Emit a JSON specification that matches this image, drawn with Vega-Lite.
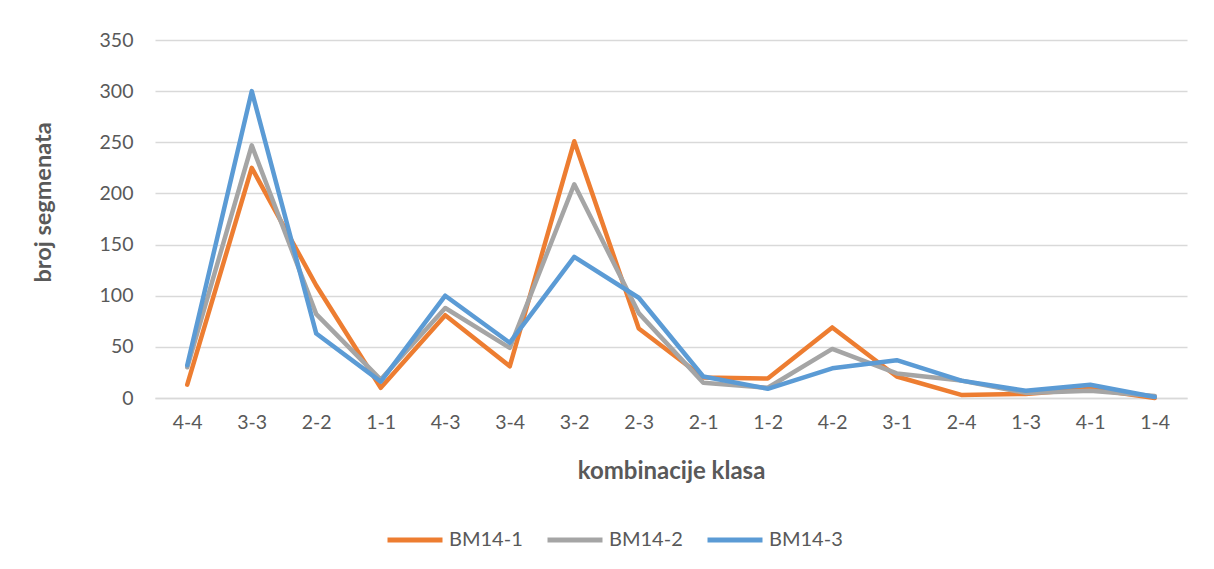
{
  "$schema": "https://vega.github.io/schema/vega-lite/v6.json",
  "autosize": "none",
  "width": 1032,
  "height": 358,
  "padding": {"left": 155, "top": 40, "right": 27, "bottom": 171},
  "background": "white",
  "config": {
    "view": {"stroke": null},
    "font": "Lato",
    "axis": {"labelColor": "#595959", "titleColor": "#595959", "labelFont": "Lato", "titleFont": "Lato"}
  },
  "data": {
    "values": [
      {"klasa": "4-4", "serija": "BM14-1", "broj": 13},
      {"klasa": "3-3", "serija": "BM14-1", "broj": 225},
      {"klasa": "2-2", "serija": "BM14-1", "broj": 110},
      {"klasa": "1-1", "serija": "BM14-1", "broj": 10},
      {"klasa": "4-3", "serija": "BM14-1", "broj": 81},
      {"klasa": "3-4", "serija": "BM14-1", "broj": 31},
      {"klasa": "3-2", "serija": "BM14-1", "broj": 251},
      {"klasa": "2-3", "serija": "BM14-1", "broj": 68},
      {"klasa": "2-1", "serija": "BM14-1", "broj": 20},
      {"klasa": "1-2", "serija": "BM14-1", "broj": 19},
      {"klasa": "4-2", "serija": "BM14-1", "broj": 69},
      {"klasa": "3-1", "serija": "BM14-1", "broj": 21},
      {"klasa": "2-4", "serija": "BM14-1", "broj": 3},
      {"klasa": "1-3", "serija": "BM14-1", "broj": 4},
      {"klasa": "4-1", "serija": "BM14-1", "broj": 9},
      {"klasa": "1-4", "serija": "BM14-1", "broj": 0},
      {"klasa": "4-4", "serija": "BM14-2", "broj": 30},
      {"klasa": "3-3", "serija": "BM14-2", "broj": 247},
      {"klasa": "2-2", "serija": "BM14-2", "broj": 82},
      {"klasa": "1-1", "serija": "BM14-2", "broj": 18},
      {"klasa": "4-3", "serija": "BM14-2", "broj": 88},
      {"klasa": "3-4", "serija": "BM14-2", "broj": 49},
      {"klasa": "3-2", "serija": "BM14-2", "broj": 209},
      {"klasa": "2-3", "serija": "BM14-2", "broj": 83},
      {"klasa": "2-1", "serija": "BM14-2", "broj": 15},
      {"klasa": "1-2", "serija": "BM14-2", "broj": 10},
      {"klasa": "4-2", "serija": "BM14-2", "broj": 48},
      {"klasa": "3-1", "serija": "BM14-2", "broj": 24},
      {"klasa": "2-4", "serija": "BM14-2", "broj": 17},
      {"klasa": "1-3", "serija": "BM14-2", "broj": 5},
      {"klasa": "4-1", "serija": "BM14-2", "broj": 7},
      {"klasa": "1-4", "serija": "BM14-2", "broj": 2},
      {"klasa": "4-4", "serija": "BM14-3", "broj": 32},
      {"klasa": "3-3", "serija": "BM14-3", "broj": 300},
      {"klasa": "2-2", "serija": "BM14-3", "broj": 63},
      {"klasa": "1-1", "serija": "BM14-3", "broj": 16},
      {"klasa": "4-3", "serija": "BM14-3", "broj": 100},
      {"klasa": "3-4", "serija": "BM14-3", "broj": 54},
      {"klasa": "3-2", "serija": "BM14-3", "broj": 138},
      {"klasa": "2-3", "serija": "BM14-3", "broj": 98},
      {"klasa": "2-1", "serija": "BM14-3", "broj": 21},
      {"klasa": "1-2", "serija": "BM14-3", "broj": 9},
      {"klasa": "4-2", "serija": "BM14-3", "broj": 29},
      {"klasa": "3-1", "serija": "BM14-3", "broj": 37},
      {"klasa": "2-4", "serija": "BM14-3", "broj": 17},
      {"klasa": "1-3", "serija": "BM14-3", "broj": 7},
      {"klasa": "4-1", "serija": "BM14-3", "broj": 13},
      {"klasa": "1-4", "serija": "BM14-3", "broj": 1}
    ]
  },
  "mark": {"type": "line", "strokeWidth": 4.5, "strokeJoin": "round", "strokeCap": "round"},
  "encoding": {
    "x": {
      "field": "klasa",
      "type": "ordinal",
      "sort": null,
      "scale": {"type": "point", "padding": 0.5},
      "axis": {
        "title": "kombinacije klasa",
        "titleFontSize": 24,
        "titleFontWeight": "bold",
        "titlePadding": 28,
        "labelFontSize": 19.5,
        "labelAngle": 0,
        "labelPadding": 15,
        "ticks": false,
        "domainColor": "#D9D9D9",
        "domainWidth": 1.5,
        "grid": false
      }
    },
    "y": {
      "field": "broj",
      "type": "quantitative",
      "scale": {"domain": [0, 350], "nice": false},
      "axis": {
        "title": "broj segmenata",
        "titleFontSize": 23.5,
        "titleFontWeight": "bold",
        "titlePadding": 44,
        "titleY": 162,
        "titleAlign": "center",
        "labelFontSize": 19.5,
        "labelPadding": 22,
        "values": [0, 50, 100, 150, 200, 250, 300, 350],
        "ticks": false,
        "domain": false,
        "gridColor": "#D9D9D9",
        "gridWidth": 1.3
      }
    },
    "color": {
      "field": "serija",
      "type": "nominal",
      "scale": {"domain": ["BM14-1", "BM14-2", "BM14-3"], "range": ["#ED7D31", "#A5A5A5", "#5B9BD5"]},
      "legend": {
        "title": null,
        "orient": "none",
        "direction": "horizontal",
        "legendX": 230,
        "legendY": 470,
        "symbolType": "stroke",
        "symbolSize": 3025,
        "symbolStrokeWidth": 5,
        "labelFontSize": 20,
        "labelColor": "#595959",
        "labelOffset": 4,
        "columnPadding": 14,
        "labelFont": "Lato"
      }
    }
  }
}
